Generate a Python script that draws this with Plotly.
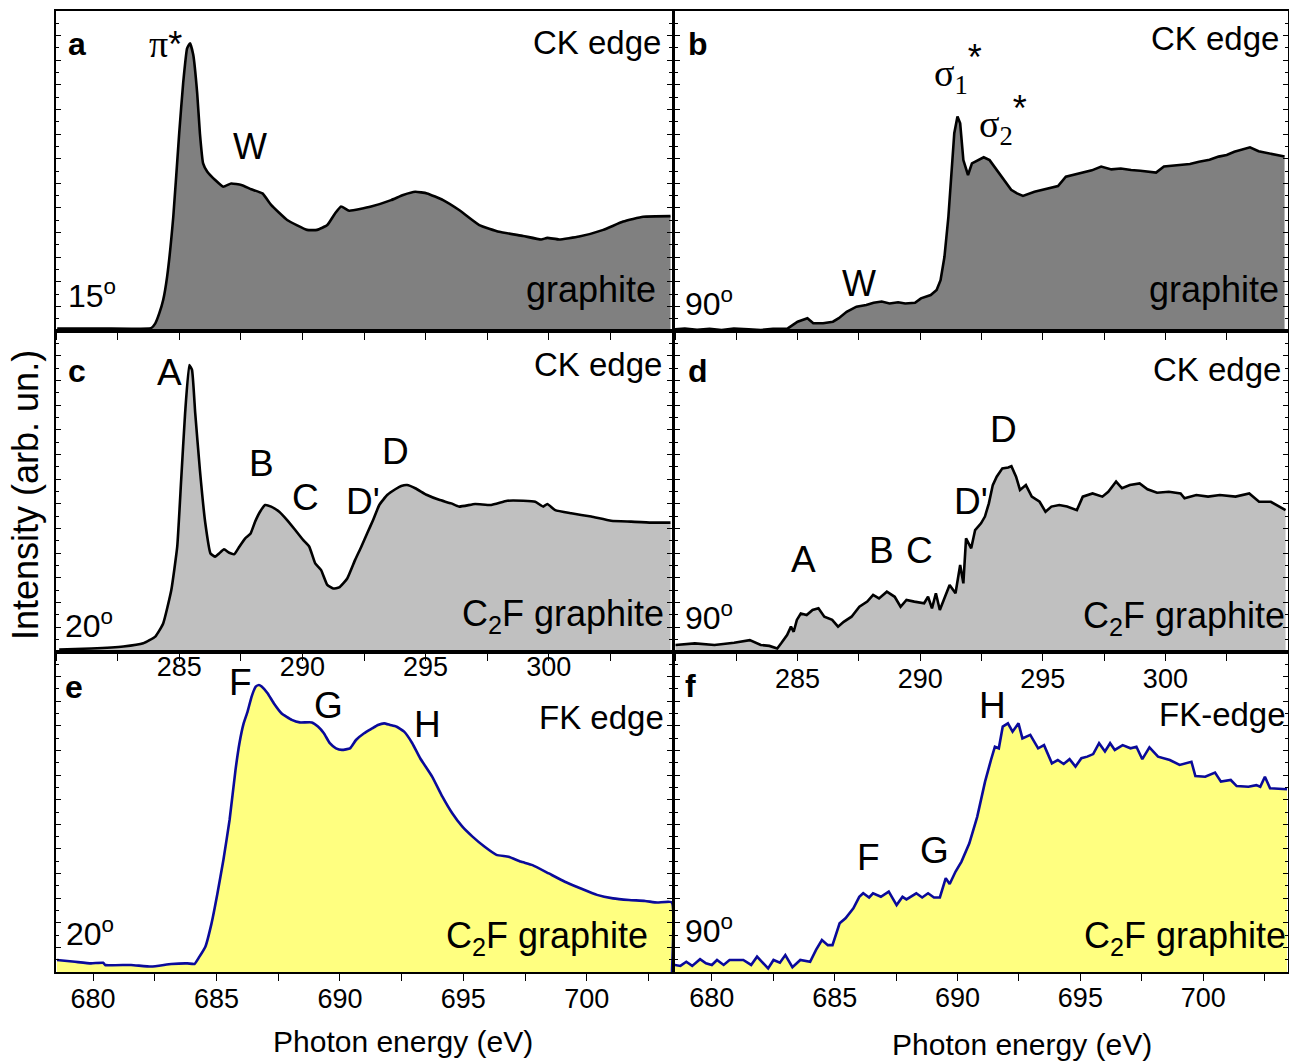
import plotly.graph_objects as go

# ---------------- data ----------------
# panel a: C K-edge, graphite, 15 deg
a_E = [280.05, 281.43, 283.05, 283.86, 284.03, 284.19, 284.35, 284.51, 284.76, 285.0, 285.16, 285.32,
       285.44, 285.57, 285.73, 285.84, 285.97, 286.14, 286.46, 286.79, 287.11, 287.52, 287.92, 288.38,
       288.73, 289.38, 290.19, 290.60, 291.01, 291.33, 291.57, 291.90, 292.79, 293.60, 294.09, 294.58,
       295.06, 295.71, 296.36, 297.18, 297.99, 298.96, 299.69, 299.94, 300.42, 301.23, 302.21, 303.02,
       303.83, 304.94]
a_I = [0.008, 0.008, 0.007, 0.009, 0.024, 0.055, 0.097, 0.170, 0.357, 0.618, 0.774, 0.883,
       0.899, 0.863, 0.743, 0.618, 0.524, 0.498, 0.472, 0.451, 0.461, 0.456, 0.443, 0.430,
       0.394, 0.347, 0.316, 0.316, 0.331, 0.368, 0.389, 0.376, 0.389, 0.409, 0.425, 0.435,
       0.430, 0.409, 0.378, 0.331, 0.310, 0.297, 0.286, 0.291, 0.286, 0.295, 0.316, 0.342,
       0.357, 0.359]

# panel b: C K-edge, graphite, 90 deg
b_E = [279.97, 280.4, 280.9, 281.41, 281.9, 282.4, 283.00, 283.5, 284.0, 284.60, 285.00, 285.40,
       285.64, 286.04, 286.44, 286.68, 287.00, 287.40, 287.80, 288.1, 288.43, 288.75, 289.1, 289.39,
       289.79, 290.03, 290.43, 290.67, 290.83, 290.99, 291.15, 291.28, 291.39, 291.52, 291.63, 291.76,
       291.95, 292.11, 292.35, 292.59, 292.83, 293.07, 293.39, 293.71, 293.95, 294.19, 294.66, 295.14,
       295.62, 295.94, 296.3, 296.58, 297.0, 297.38, 297.8, 298.18, 298.6, 298.98, 299.3, 299.62,
       299.94, 300.58, 301.0, 301.37, 301.8, 302.17, 302.5, 302.81, 303.1, 303.45, 303.8, 304.09,
       304.86]
b_I = [0.005, 0.008, 0.004, 0.007, 0.003, 0.008, 0.005, 0.003, 0.007, 0.008, 0.029, 0.040,
       0.024, 0.024, 0.029, 0.040, 0.060, 0.076, 0.081, 0.088, 0.092, 0.086, 0.090, 0.086,
       0.088, 0.102, 0.1125, 0.128, 0.159, 0.232, 0.357, 0.514, 0.618, 0.670, 0.649, 0.534,
       0.4875, 0.524, 0.534, 0.543, 0.534, 0.508, 0.472, 0.441, 0.430, 0.422, 0.435, 0.443,
       0.453, 0.482, 0.488, 0.495, 0.502, 0.514, 0.505, 0.508, 0.503, 0.501, 0.498, 0.495,
       0.514, 0.519, 0.522, 0.529, 0.535, 0.545, 0.550, 0.560, 0.566, 0.574, 0.562, 0.557,
       0.545]

# panel c: C K-edge, C2F graphite, 20 deg
c_E = [280.13, 281.43, 282.73, 283.54, 284.03, 284.35, 284.68, 284.92, 285.08, 285.24, 285.41, 285.52,
       285.65, 285.84, 286.06, 286.27, 286.46, 286.62, 286.82, 287.03, 287.24, 287.44, 287.68, 287.89,
       288.08, 288.28, 288.49, 288.73, 289.06, 289.38, 289.71, 290.03, 290.28, 290.52, 290.76, 291.01,
       291.25, 291.49, 291.82, 292.14, 292.39, 292.63, 292.87, 293.12, 293.44, 293.77, 294.01, 294.25,
       294.58, 295.06, 295.55, 296.04, 296.36, 297.01, 297.66, 298.31, 298.96, 299.45, 299.77, 299.94,
       300.26, 300.91, 301.72, 302.53, 303.34, 304.16, 304.94]
c_I = [0.008, 0.011, 0.017, 0.027, 0.048, 0.089, 0.193, 0.328, 0.536, 0.744, 0.894, 0.879,
       0.744, 0.567, 0.401, 0.307, 0.297, 0.307, 0.320, 0.309, 0.305, 0.328, 0.354, 0.368,
       0.406, 0.437, 0.458, 0.453, 0.437, 0.411, 0.380, 0.349, 0.328, 0.276, 0.255, 0.209,
       0.198, 0.201, 0.229, 0.287, 0.328, 0.370, 0.411, 0.458, 0.489, 0.507, 0.517, 0.520,
       0.510, 0.489, 0.474, 0.463, 0.453, 0.461, 0.458, 0.471, 0.471, 0.468, 0.453, 0.461,
       0.442, 0.432, 0.422, 0.409, 0.406, 0.403, 0.403]

# panel d: C K-edge, C2F graphite, 90 deg
d_E = [280.02, 280.81, 281.61, 282.41, 283.05, 283.50, 283.85, 284.17, 284.33, 284.57, 284.73, 284.84,
       284.97, 285.13, 285.37, 285.61, 285.85, 286.09, 286.41, 286.65, 286.88, 287.20, 287.52, 287.84,
       288.08, 288.32, 288.64, 288.96, 289.20, 289.44, 289.76, 290.16, 290.32, 290.48, 290.64, 290.80,
       290.96, 291.20, 291.44, 291.63, 291.76, 291.87, 292.08, 292.24, 292.48, 292.64, 292.80, 292.96,
       293.12, 293.35, 293.59, 293.72, 293.91, 294.07, 294.31, 294.55, 294.87, 295.11, 295.35, 295.67,
       295.99, 296.39, 296.63, 297.03, 297.43, 297.67, 297.99, 298.23, 298.55, 298.95, 299.27, 299.66,
       300.14, 300.62, 300.78, 301.26, 301.74, 302.22, 302.86, 303.42, 303.82, 304.30, 304.90]
d_I = [0.022, 0.027, 0.022, 0.029, 0.037, 0.022, 0.019, 0.011, 0.027, 0.053, 0.079, 0.063,
       0.100, 0.120, 0.115, 0.131, 0.136, 0.110, 0.100, 0.079, 0.094, 0.110, 0.141, 0.157,
       0.178, 0.167, 0.188, 0.172, 0.141, 0.162, 0.157, 0.152, 0.172, 0.136, 0.183, 0.131,
       0.162, 0.209, 0.183, 0.271, 0.214, 0.354, 0.323, 0.380, 0.401, 0.422, 0.463, 0.520,
       0.546, 0.572, 0.575, 0.579, 0.546, 0.505, 0.520, 0.484, 0.468, 0.437, 0.453, 0.458,
       0.453, 0.442, 0.484, 0.494, 0.484, 0.499, 0.531, 0.510, 0.520, 0.525, 0.507, 0.496,
       0.499, 0.494, 0.479, 0.489, 0.484, 0.489, 0.484, 0.494, 0.468, 0.468, 0.442]

# panel e: F K-edge, C2F graphite, 20 deg
e_E = [678.54, 679.27, 679.92, 680.41, 680.49, 681.54, 682.36, 683.17, 683.82, 684.11, 684.31, 684.55,
       684.80, 685.04, 685.28, 685.53, 685.77, 685.93, 686.10, 686.26, 686.42, 686.59, 686.72, 686.83,
       687.07, 687.32, 687.64, 688.05, 688.37, 688.86, 689.11, 689.35, 689.59, 689.84, 690.08, 690.41,
       690.65, 690.98, 691.30, 691.54, 691.79, 692.03, 692.28, 692.60, 692.93, 693.25, 693.74, 694.15,
       694.55, 694.96, 695.37, 695.85, 696.34, 696.83, 697.32, 697.80, 698.46, 699.11, 699.76, 700.41,
       701.06, 701.71, 702.36, 702.85, 703.44, 703.45]
e_I = [0.0375, 0.032, 0.027, 0.029, 0.022, 0.022, 0.017, 0.025, 0.027, 0.025, 0.048, 0.079,
       0.152, 0.246, 0.350, 0.475, 0.631, 0.715, 0.777, 0.814, 0.860, 0.892, 0.897, 0.892,
       0.871, 0.840, 0.808, 0.788, 0.780, 0.780, 0.767, 0.746, 0.715, 0.699, 0.694, 0.699,
       0.725, 0.746, 0.761, 0.772, 0.777, 0.772, 0.767, 0.751, 0.715, 0.668, 0.610, 0.548,
       0.496, 0.454, 0.423, 0.392, 0.366, 0.360, 0.345, 0.334, 0.308, 0.282, 0.261, 0.241,
       0.230, 0.225, 0.222, 0.217, 0.218, 0.0]

# panel f: F K-edge, C2F graphite, 90 deg
f_E = [678.48, 678.72, 678.96, 679.20, 679.52, 679.76, 680.00, 680.21, 680.48, 680.72, 681.28, 681.60,
       681.84, 682.08, 682.29, 682.51, 682.77, 682.99, 683.28, 683.60, 684.00, 684.24, 684.48, 684.72,
       684.91, 685.20, 685.44, 685.76, 686.00, 686.16, 686.40, 686.56, 686.88, 687.20, 687.52, 687.76,
       687.92, 688.32, 688.56, 688.80, 689.04, 689.28, 689.52, 689.68, 689.92, 690.16, 690.48, 690.80,
       691.12, 691.36, 691.52, 691.68, 691.84, 692.05, 692.24, 692.48, 692.64, 692.96, 693.28, 693.52,
       693.84, 694.08, 694.32, 694.56, 694.80, 695.04, 695.28, 695.52, 695.76, 696.00, 696.21, 696.40,
       696.72, 697.04, 697.28, 697.52, 697.81, 698.16, 698.64, 699.04, 699.52, 699.68, 700.08, 700.48,
       700.72, 701.12, 701.36, 701.84, 702.16, 702.32, 702.51, 702.72, 703.41]
f_I = [0.022, 0.019, 0.032, 0.019, 0.040, 0.027, 0.022, 0.0375, 0.022, 0.0375, 0.0375, 0.022,
       0.048, 0.027, 0.011, 0.0375, 0.029, 0.053, 0.015, 0.0375, 0.032, 0.069, 0.100, 0.084,
       0.084, 0.152, 0.168, 0.199, 0.235, 0.246, 0.233, 0.246, 0.235, 0.251, 0.209, 0.235,
       0.227, 0.246, 0.233, 0.246, 0.233, 0.233, 0.293, 0.275, 0.314, 0.345, 0.402, 0.485,
       0.595, 0.6625, 0.704, 0.699, 0.767, 0.777, 0.751, 0.777, 0.730, 0.741, 0.699, 0.709,
       0.652, 0.6625, 0.650, 0.665, 0.642, 0.668, 0.673, 0.681, 0.715, 0.689, 0.715, 0.694,
       0.709, 0.699, 0.704, 0.665, 0.702, 0.673, 0.6625, 0.647, 0.657, 0.6125, 0.610, 0.623,
       0.595, 0.600, 0.581, 0.579, 0.584, 0.579, 0.610, 0.574, 0.571]

c_ticks = [285, 290, 295, 300]
f_ticks = [680, 685, 690, 695, 700]
c_range = [280.0, 305.0]
f_range = [678.5, 703.45]
x_title = "Photon energy (eV)"
y_title = "Intensity (arb. un.)"

# ---------------- figure ----------------
W, H = 1289, 1061
FONT = "Liberation Sans, Arial, sans-serif"
SERIF = "Liberation Serif, Times New Roman, serif"

def px(x):
    return x / W

def py(y):
    return 1 - y / H

xL = [px(56), px(672)]
xR = [px(675), px(1288)]
rows = [[py(331), py(11)], [py(652), py(331)], [py(972), py(652)]]

fig = go.Figure()

panels = [
    (a_E, a_I, "#808080", "black", 1, c_range, None),
    (b_E, b_I, "#808080", "black", 2, c_range, None),
    (c_E, c_I, "#C0C0C0", "black", 3, c_range, c_ticks),
    (d_E, d_I, "#C0C0C0", "black", 4, c_range, c_ticks),
    (e_E, e_I, "#FFFF80", "#0A0A9A", 5, f_range, f_ticks),
    (f_E, f_I, "#FFFF80", "#0A0A9A", 6, f_range, f_ticks),
]
standoffs = {3: -17, 4: -5, 5: -5, 6: -6}

layout = dict(
    width=W, height=H, margin=dict(l=0, r=0, t=0, b=0),
    paper_bgcolor="white", plot_bgcolor="rgba(0,0,0,0)",
    showlegend=False, font=dict(family=FONT, color="black"),
)

for E, I, fillc, linec, n, xr, tv in panels:
    sfx = "" if n == 1 else str(n)
    shape = "spline" if n in (1, 3, 5) else "linear"
    fig.add_trace(go.Scatter(
        x=E, y=I, mode="lines", fill="tozeroy", fillcolor=fillc,
        line=dict(color=linec, width=2.6, shape=shape, smoothing=0.4),
        xaxis="x" + sfx, yaxis="y" + sfx, hoverinfo="skip"))
    col = 0 if n % 2 == 1 else 1
    row = (n - 1) // 2
    xa = dict(
        domain=xL if col == 0 else xR, range=xr, anchor="y" + sfx,
        showline=True, linecolor="black", linewidth=1.6, mirror=True,
        ticks="outside", ticklen=7, tickwidth=1.3, tickcolor="black",
        showgrid=False, zeroline=False,
        minor=dict(dtick=2.5, tick0=0, ticks="outside", ticklen=7, tickwidth=1.3, tickcolor="black"),
        tickfont=dict(size=27, family=FONT, color="black"),
    )
    if tv is None:
        xa.update(tickmode="array", tickvals=c_ticks, showticklabels=False)
    else:
        xa.update(tickmode="array", tickvals=tv, showticklabels=True,
                  ticklabelstandoff=standoffs[n])
    ya = dict(
        domain=rows[row], range=[0, 1], anchor="x" + sfx,
        showline=True, linecolor="black", linewidth=1.6, mirror="ticks",
        ticks="inside", ticklen=5, tickwidth=1.2, tickcolor="black",
        dtick=1 / 13, tick0=0, showticklabels=False,
        minor=dict(dtick=1 / 26, ticks="inside", ticklen=3, tickwidth=1, tickcolor="black"),
        showgrid=False, zeroline=False,
    )
    layout["xaxis" + sfx] = xa
    layout["yaxis" + sfx] = ya

fig.update_layout(**layout)

anns = []

def ann(text, x, y, size, xanchor="left", family=FONT, angle=0):
    anns.append(dict(text=text, x=px(x), y=py(y), xref="paper", yref="paper",
                     xanchor=xanchor, yanchor="middle", showarrow=False, textangle=angle,
                     font=dict(size=size, family=family, color="black")))

# axis titles
ann(y_title, 25, 495, 36, xanchor="center", angle=-90)
ann(x_title, 403, 1041, 30, xanchor="center")
ann(x_title, 1022, 1044, 30, xanchor="center")

STAR = "<span style='font-family:Liberation Sans;font-size:36px'>*</span>"

# panel a
ann("<b>a</b>", 66, 44, 32)
ann("π" + STAR, 147, 44, 38, family=SERIF)
ann("W", 231, 146, 36)
ann("CK edge", 663, 42, 33, xanchor="right")
ann("graphite", 658, 290, 36, xanchor="right")
ann("15<sup>o</sup>", 66, 294, 32)

# panel b
ann("<b>b</b>", 686, 44, 32)
ann("σ<sub>1</sub><sup>" + STAR + "</sup>", 932, 68, 38, family=SERIF)
ann("σ<sub>2</sub><sup>" + STAR + "</sup>", 977, 120, 38, family=SERIF)
ann("W", 840, 283, 36)
ann("CK edge", 1281, 39, 33, xanchor="right")
ann("graphite", 1281, 290, 36, xanchor="right")
ann("90<sup>o</sup>", 683, 302, 32)

# panel c
ann("<b>c</b>", 66, 371, 32)
ann("A", 155, 372, 37)
ann("B", 247, 464, 37)
ann("C", 290, 497, 37)
ann("D'", 344, 502, 37)
ann("D", 380, 452, 37)
ann("CK edge", 664, 364, 33, xanchor="right")
ann("C<sub>2</sub>F graphite", 666, 616, 36, xanchor="right")
ann("20<sup>o</sup>", 63, 624, 32)

# panel d
ann("<b>d</b>", 686, 371, 32)
ann("A", 789, 559, 37)
ann("B", 867, 550, 37)
ann("C", 904, 550, 37)
ann("D'", 952, 502, 37)
ann("D", 988, 430, 37)
ann("CK edge", 1283, 369, 33, xanchor="right")
ann("C<sub>2</sub>F graphite", 1287, 618, 36, xanchor="right")
ann("90<sup>o</sup>", 683, 616, 32)

# panel e
ann("<b>e</b>", 63, 687, 32)
ann("F", 227, 682, 37)
ann("G", 312, 705, 37)
ann("H", 412, 724, 37)
ann("FK edge", 666, 717, 33, xanchor="right")
ann("C<sub>2</sub>F graphite", 650, 938, 36, xanchor="right")
ann("20<sup>o</sup>", 64, 932, 32)

# panel f
ann("<b>f</b>", 683, 686, 32)
ann("F", 855, 857, 37)
ann("G", 918, 850, 37)
ann("H", 977, 705, 37)
ann("FK-edge", 1288, 714, 33, xanchor="right")
ann("C<sub>2</sub>F graphite", 1288, 938, 36, xanchor="right")
ann("90<sup>o</sup>", 683, 929, 32)

fig.update_layout(annotations=anns)
fig.write_html("out.html")
